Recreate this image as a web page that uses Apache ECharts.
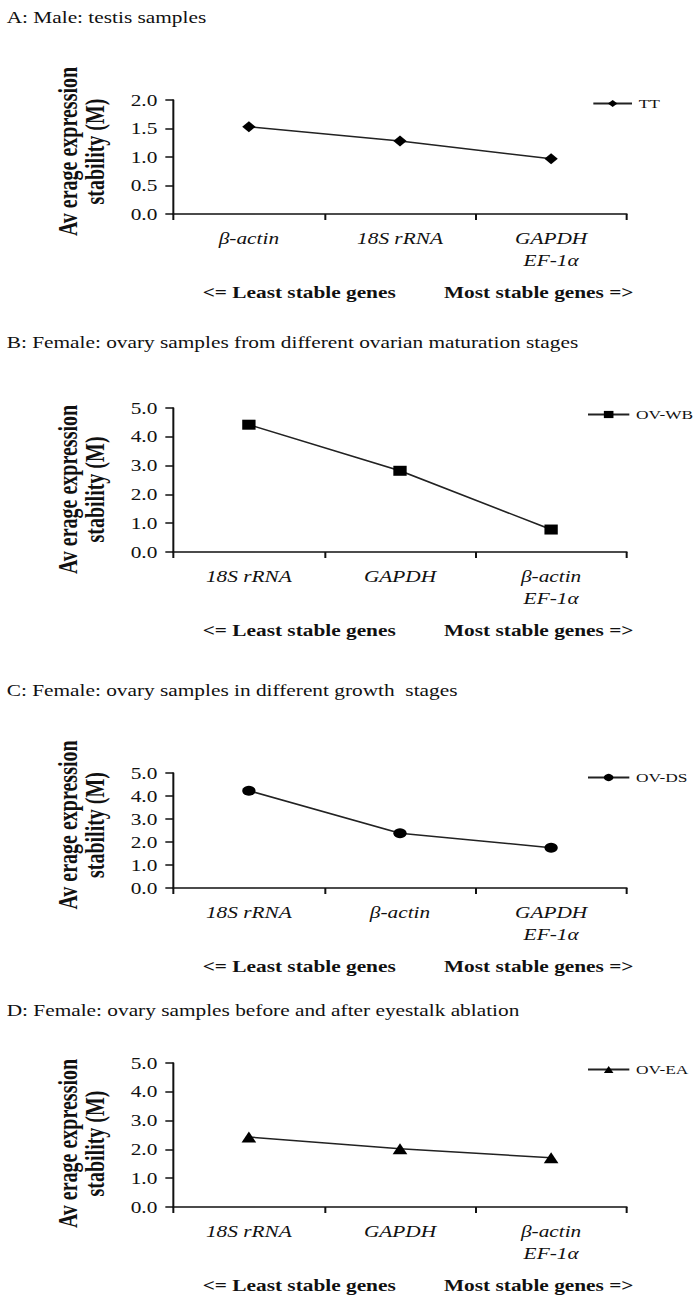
<!DOCTYPE html>
<html>
<head>
<meta charset="utf-8">
<script src="https://cdn.jsdelivr.net/npm/echarts@6/dist/echarts.min.js"></script>
<style>
html,body{margin:0;padding:0;background:#fff;overflow:hidden;}
#wrap{width:696px;height:1298px;overflow:hidden;}
#c{width:522px;height:1298px;transform:scale(1.33333,1);transform-origin:0 0;}
</style>
</head>
<body>
<div id="wrap"><div id="c"></div></div>
<script>
// ---- data ----
const panelTitles = [
  'A: Male: testis samples',
  'B: Female: ovary samples from different ovarian maturation stages',
  'C: Female: ovary samples in different growth  stages',
  'D: Female: ovary samples before and after eyestalk ablation'
];
const seriesNames = ['TT', 'OV-WB', 'OV-DS', 'OV-EA'];
const catsA = ['β-actin', '18S rRNA', 'GAPDH\nEF-1α'];
const valsA = [1.53, 1.28, 0.97];
const catsB = ['18S rRNA', 'GAPDH', 'β-actin\nEF-1α'];
const valsB = [4.42, 2.82, 0.78];
const catsC = ['18S rRNA', 'β-actin', 'GAPDH\nEF-1α'];
const valsC = [4.23, 2.38, 1.75];
const catsD = ['18S rRNA', 'GAPDH', 'β-actin\nEF-1α'];
const valsD = [2.43, 2.02, 1.71];
const yMaxes = [2, 5, 5, 5];
const yIntervals = [0.5, 1, 1, 1];
const yTitle = 'Av erage expression\nstability (M)';
const leastText = '<= Least stable genes';
const mostText = 'Most stable genes =>';

// ---- layout (drawn in a 522px-wide frame, stretched horizontally to 696px like the source figure) ----
const cats = [catsA, catsB, catsC, catsD];
const vals = [valsA, valsB, valsC, valsD];
const symbols = ['diamond', 'rect', 'circle', 'triangle'];
const symSizes = [[10, 11], 10, 10, 11];
const gridTops = [100, 408, 773, 1063];
const gridHeights = [114, 144, 115, 144];
const titleYs = [14, 339, 687, 1007];
const legendLefts = [444, 440, 440, 440];
const legendWidths = [29, 31, 31, 31];
const legendYs = [103, 414, 777, 1069];
const nameShift = [[0, 0, 0, 11], [0, 19, 0, 0], [0, 0, 0, 11], [0, 17, 0, 0]];
const FONT = '"Liberation Serif", "DejaVu Serif", serif';
const INK = '#111';

const chart = echarts.init(document.getElementById('c'), null, {renderer: 'svg', width: 522, height: 1298});

const grids = [], xAxes = [], yAxes = [], series = [], titles = [], legends = [];
for (let i = 0; i < 4; i++) {
  grids.push({left: 130, width: 340, top: gridTops[i], height: gridHeights[i], containLabel: false});
  xAxes.push({
    type: 'category', gridIndex: i, data: cats[i], boundaryGap: true,
    axisLine: {lineStyle: {color: INK, width: 1.5}},
    axisTick: {show: true, length: 6, inside: false, lineStyle: {color: INK, width: 1.5}},
    axisLabel: {color: INK, fontFamily: FONT, fontStyle: 'italic', fontSize: 16, lineHeight: 22, margin: 13, interval: 0}
  });
  yAxes.push({
    type: 'value', gridIndex: i, min: 0, max: yMaxes[i], interval: yIntervals[i],
    name: yTitle, nameLocation: 'middle', nameRotate: 90, nameGap: 49,
    nameTextStyle: {color: INK, fontFamily: FONT, fontWeight: 'bold', fontSize: 20, lineHeight: 20, padding: nameShift[i]},
    axisLine: {show: true, lineStyle: {color: INK, width: 1.5}},
    axisTick: {show: true, length: 6, lineStyle: {color: INK, width: 1.5}},
    splitLine: {show: false},
    axisLabel: {color: INK, fontFamily: FONT, fontSize: 16, margin: 12,
      formatter: v => v.toFixed(1)}
  });
  series.push({
    name: seriesNames[i], type: 'line', xAxisIndex: i, yAxisIndex: i, data: vals[i],
    symbol: symbols[i], symbolSize: symSizes[i],
    lineStyle: {color: '#222', width: 1.5},
    itemStyle: {color: '#000'}, z: 3
  });
  titles.push({text: panelTitles[i], left: 0, top: titleYs[i] - 10,
    textStyle: {fontFamily: FONT, fontSize: 16, fontWeight: 'normal', color: INK}});
  const bottomY = gridTops[i] + gridHeights[i] + 75;
  titles.push({text: leastText, left: 147, top: bottomY - 10,
    textStyle: {fontFamily: FONT, fontSize: 16, fontWeight: 'bold', color: INK}});
  titles.push({text: mostText, left: 328, top: bottomY - 10,
    textStyle: {fontFamily: FONT, fontSize: 16, fontWeight: 'bold', color: INK}});
  legends.push({
    data: [seriesNames[i]], left: legendLefts[i], top: legendYs[i] - 6,
    orient: 'vertical', itemWidth: legendWidths[i], itemHeight: 9, itemGap: 4,
    textStyle: {fontFamily: FONT, fontSize: 13, color: INK},
    padding: 0
  });
}

chart.setOption({
  animation: false,
  backgroundColor: '#fff',
  title: titles,
  legend: legends,
  grid: grids,
  xAxis: xAxes,
  yAxis: yAxes,
  series: series
});
</script>
</body>
</html>
